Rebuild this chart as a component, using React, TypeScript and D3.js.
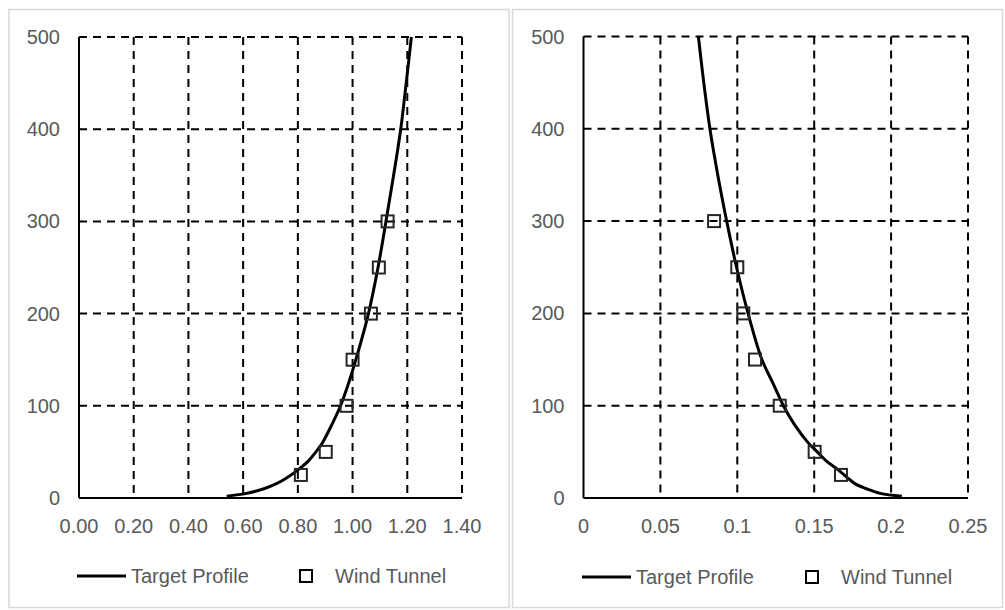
import React from "react";
import * as d3 from "d3";

// Heights (m) at which the target profiles are tabulated
const PROFILE_HEIGHTS = [2, 5, 10, 15, 20, 30, 40, 50, 60, 80, 100, 125, 150, 200, 250, 300, 350, 400, 450, 500];
// Normalised mean wind speed, target profile
const SPEED_TARGET = [0.540, 0.612, 0.676, 0.718, 0.750, 0.798, 0.838, 0.866, 0.890, 0.925, 0.956, 0.986, 1.012, 1.058, 1.093, 1.122, 1.150, 1.176, 1.196, 1.215];
// Turbulence intensity, target profile
const TI_TARGET = [0.207, 0.193, 0.184, 0.177, 0.173, 0.166, 0.158, 0.152, 0.146, 0.137, 0.130, 0.123, 0.116, 0.107, 0.0995, 0.0931, 0.0873, 0.0822, 0.0782, 0.0747];

// Wind tunnel measurements
const TUNNEL_HEIGHTS = [25, 50, 100, 150, 200, 250, 300];
const SPEED_TUNNEL = [0.811, 0.902, 0.978, 1.0, 1.067, 1.096, 1.128];
const TI_TUNNEL = [0.1674, 0.1503, 0.1276, 0.1115, 0.1039, 0.1, 0.0849];

// Axis ticks
const HEIGHT_TICKS = [0, 100, 200, 300, 400, 500];
const SPEED_TICKS = [0, 0.2, 0.4, 0.6, 0.8, 1.0, 1.2, 1.4];
const TI_TICKS = [0, 0.05, 0.1, 0.15, 0.2, 0.25];

const SERIES_NAMES = ["Target Profile", "Wind Tunnel"];

const FONT = "'Liberation Sans', Arial, sans-serif";
const FONT_SIZE = 20;
const TEXT_COLOR = "#595959";

type PanelProps = {
  box: { x: number; y: number; w: number; h: number };
  plot: { left: number; right: number; top: number; bottom: number };
  xMax: number;
  xTicks: number[];
  fmt: (v: number) => string;
  target: number[];
  tunnel: number[];
  legend: { lineX: number; markerX: number; textX: number; y: number };
};

function Panel({ box, plot, xMax, xTicks, fmt, target, tunnel, legend }: PanelProps) {
  const x = d3.scaleLinear().domain([0, xMax]).range([plot.left, plot.right]);
  const y = d3.scaleLinear().domain([0, 500]).range([plot.bottom, plot.top]);

  const line = d3
    .line<number>()
    .x((_, i) => x(target[i]))
    .y((h) => y(h))
    .curve(d3.curveCatmullRom.alpha(0.5));

  const dash = "8,6";
  const sq = 12;

  return (
    <g>
      <rect x={box.x} y={box.y} width={box.w} height={box.h} fill="#fff" stroke="#d9d9d9" strokeWidth={1.5} />

      {/* horizontal gridlines */}
      {HEIGHT_TICKS.filter((t) => t > 0).map((t) => (
        <line key={"h" + t} x1={plot.left} x2={plot.right} y1={y(t)} y2={y(t)} stroke="#000" strokeWidth={2} strokeDasharray={dash} />
      ))}
      {/* vertical gridlines */}
      {xTicks.filter((t) => t > 0).map((t) => (
        <line key={"v" + t} x1={x(t)} x2={x(t)} y1={plot.top} y2={plot.bottom} stroke="#000" strokeWidth={2} strokeDasharray={dash} />
      ))}

      {/* axes */}
      <line x1={plot.left} x2={plot.left} y1={plot.top} y2={plot.bottom} stroke="#000" strokeWidth={2} />
      <line x1={plot.left} x2={plot.right} y1={plot.bottom} y2={plot.bottom} stroke="#000" strokeWidth={2} />

      {/* y tick labels */}
      {HEIGHT_TICKS.map((t) => (
        <text key={"yl" + t} x={plot.left - 19} y={y(t) + 7} textAnchor="end" fontFamily={FONT} fontSize={FONT_SIZE} fill={TEXT_COLOR}>
          {t}
        </text>
      ))}
      {/* x tick labels */}
      {xTicks.map((t) => (
        <text key={"xl" + t} x={x(t)} y={plot.bottom + 35} textAnchor="middle" fontFamily={FONT} fontSize={FONT_SIZE} fill={TEXT_COLOR}>
          {fmt(t)}
        </text>
      ))}

      {/* target profile */}
      <path d={line(PROFILE_HEIGHTS) ?? ""} fill="none" stroke="#000" strokeWidth={3} strokeLinejoin="round" />

      {/* wind tunnel markers */}
      {TUNNEL_HEIGHTS.map((h, i) => (
        <rect key={"m" + h} x={x(tunnel[i]) - sq / 2} y={y(h) - sq / 2} width={sq} height={sq} fill="none" stroke="#262626" strokeWidth={2} />
      ))}

      {/* legend */}
      <line x1={legend.lineX} x2={legend.lineX + 49} y1={legend.y} y2={legend.y} stroke="#000" strokeWidth={3} />
      <text x={legend.lineX + 54} y={legend.y + 7} fontFamily={FONT} fontSize={FONT_SIZE} fill={TEXT_COLOR}>
        {SERIES_NAMES[0]}
      </text>
      <rect x={legend.markerX - sq / 2} y={legend.y - sq / 2} width={sq} height={sq} fill="none" stroke="#000" strokeWidth={2} />
      <text x={legend.textX} y={legend.y + 7} fontFamily={FONT} fontSize={FONT_SIZE} fill={TEXT_COLOR}>
        {SERIES_NAMES[1]}
      </text>
    </g>
  );
}

export default function App() {
  return (
    <svg width={1005} height={610} style={{ position: "absolute", left: 0, top: 0, background: "#fff" }}>
      <rect x={0} y={0} width={1005} height={610} fill="#fff" />
      <Panel
        box={{ x: 9, y: 9.5, w: 500, h: 598 }}
        plot={{ left: 79, right: 462, top: 37, bottom: 498 }}
        xMax={1.4}
        xTicks={SPEED_TICKS}
        fmt={(v) => v.toFixed(2)}
        target={SPEED_TARGET}
        tunnel={SPEED_TUNNEL}
        legend={{ lineX: 77, markerX: 306, textX: 335, y: 576 }}
      />
      <Panel
        box={{ x: 512.5, y: 9.5, w: 490, h: 598 }}
        plot={{ left: 583.5, right: 968, top: 36.5, bottom: 498 }}
        xMax={0.25}
        xTicks={TI_TICKS}
        fmt={(v) => String(+v.toFixed(2))}
        target={TI_TARGET}
        tunnel={TI_TUNNEL}
        legend={{ lineX: 582, markerX: 812, textX: 841, y: 577 }}
      />
    </svg>
  );
}
